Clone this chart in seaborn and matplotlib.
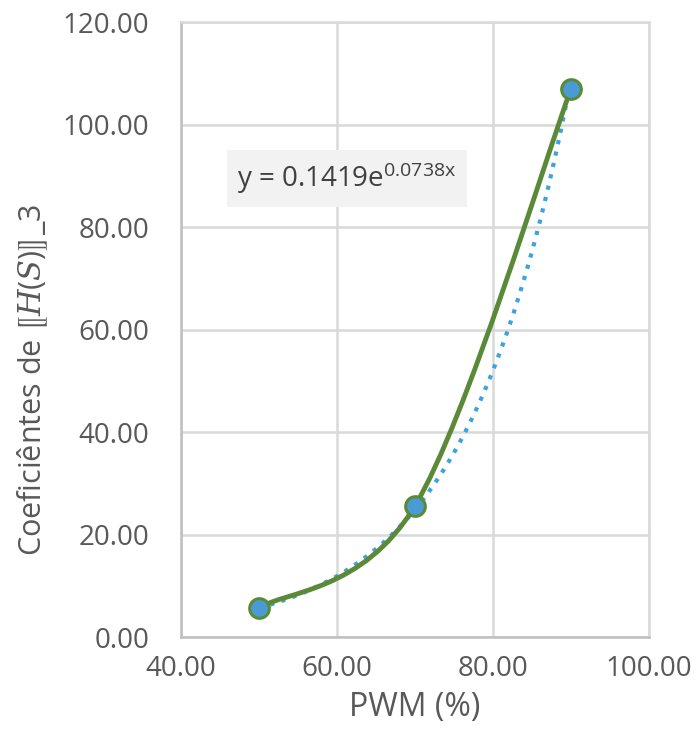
import matplotlib
matplotlib.use('Agg')
import matplotlib.pyplot as plt
import numpy as np
import pandas as pd
import seaborn as sns
from matplotlib.path import Path
from matplotlib.patches import PathPatch

# data
pwm = [50.0, 70.0, 90.0]
coef = [5.66, 25.6, 106.9]
trend_a = 0.1419
trend_b = 0.0738
x_ticks = [40, 60, 80, 100]
y_ticks = [0, 20, 40, 60, 80, 100, 120]

sns.set_style('white')
plt.rcParams['font.family'] = ['Open Sans', 'DejaVu Sans']
plt.rcParams['mathtext.fontset'] = 'custom'
plt.rcParams['mathtext.rm'] = 'Open Sans'
plt.rcParams['mathtext.it'] = 'DejaVu Serif:italic'
plt.rcParams['mathtext.fallback'] = 'stix'

df = pd.DataFrame({'PWM': pwm, 'Coef': coef})

fig = plt.figure(figsize=(6.97, 7.49), dpi=100)
ax = fig.add_axes([0.2597, 0.1495, 0.6713, 0.821])

grey = '#595959'
green = '#5A8A38'
blue = '#4A9BD5'
dot_blue = '#3DA3DB'

# exponential trendline from the displayed equation
tx = np.linspace(pwm[0], pwm[-1], 200)
trend = pd.DataFrame({'PWM': tx, 'Coef': trend_a * np.exp(trend_b * tx)})
sns.lineplot(data=trend, x='PWM', y='Coef', ax=ax, color=dot_blue,
             linestyle=(0, (1, 1.8)), linewidth=3, zorder=2)

# Excel-like smoothed line (cubic Bezier through the points)
p = np.column_stack([pwm, coef])
verts = [tuple(p[0])]
codes = [Path.MOVETO]
n = len(p)
for i in range(n - 1):
    prev = p[i - 1] if i > 0 else p[i]
    nxt = p[i + 2] if i + 2 < n else p[i + 1]
    c1 = p[i] + (p[i + 1] - prev) / 6
    c2 = p[i + 1] - (nxt - p[i]) / 6
    verts += [tuple(c1), tuple(c2), tuple(p[i + 1])]
    codes += [Path.CURVE4] * 3
ax.add_patch(PathPatch(Path(verts, codes), facecolor='none', edgecolor=green,
                       linewidth=3.5, zorder=3, capstyle='round'))

sns.scatterplot(data=df, x='PWM', y='Coef', ax=ax, s=200, color=blue,
                edgecolor=green, linewidth=2.2, zorder=4)

ax.set_xlim(40, 100)
ax.set_ylim(0, 120)
ax.set_xticks(x_ticks)
ax.set_yticks(y_ticks)
ax.set_xticklabels([f'{v:.2f}' for v in x_ticks])
ax.set_yticklabels([f'{v:.2f}' for v in y_ticks])
ax.tick_params(axis='both', length=0, labelsize=20, labelcolor=grey)
ax.tick_params(axis='y', pad=23)
ax.tick_params(axis='x', pad=13)
ax.grid(True, color='#D9D9D9', linewidth=1.8)
for s in ax.spines.values():
    s.set_color('#D9D9D9')
    s.set_linewidth(1.8)
ax.spines['left'].set_color('#BFBFBF')
ax.spines['bottom'].set_color('#BFBFBF')

ax.set_xlabel('PWM (%)', fontsize=23, color=grey, labelpad=6)
ax.set_ylabel(r'Coeficiêntes de $⟦H(S)⟧$_3', fontsize=22, color=grey)
ax.yaxis.set_label_coords(-0.28, 0.418)

ax.text(0.12, 0.746, r'y = 0.1419e$^{\mathrm{0.0738x}}$', transform=ax.transAxes,
        fontsize=20, color='#404040', va='center', ha='left',
        bbox=dict(boxstyle='square,pad=0.38', facecolor='#F2F2F2', edgecolor='none'))

fig.savefig('out.png', dpi=100)
